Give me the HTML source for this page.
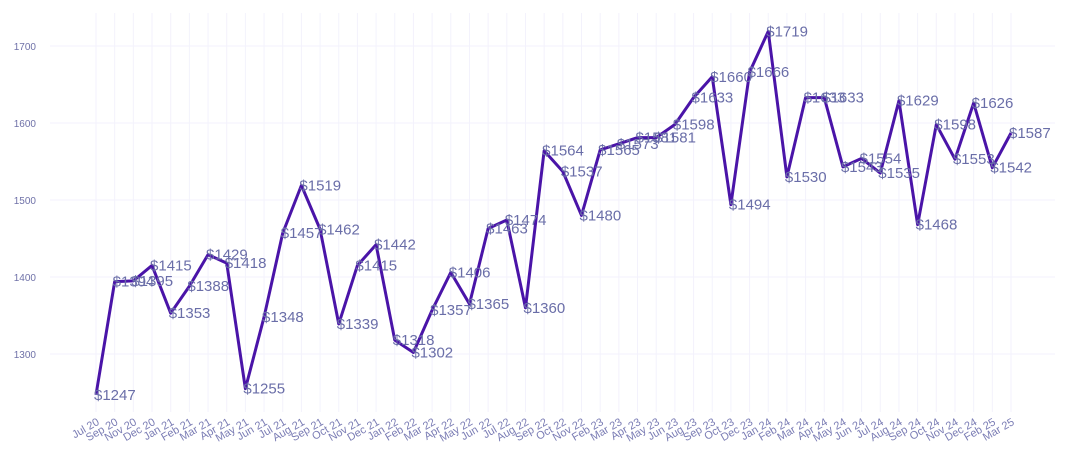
<!DOCTYPE html>
<html><head><meta charset="utf-8"><style>
html,body{margin:0;padding:0;background:#fff;}
svg{display:block;font-family:"Liberation Sans",sans-serif;}
</style></head><body>
<svg id="chart" width="1070" height="465" viewBox="0 0 1070 465">
<g id="grid"></g>
<g id="yaxis"></g>
<g id="xaxis"></g>
<g id="series"></g>
</svg>
<script>
const categories=["Jul 20","Sep 20","Nov 20","Dec 20","Jan 21","Feb 21","Mar 21","Apr 21","May 21","Jun 21","Jul 21","Aug 21","Sep 21","Oct 21","Nov 21","Dec 21","Jan 22","Feb 22","Mar 22","Apr 22","May 22","Jun 22","Jul 22","Aug 22","Sep 22","Oct 22","Nov 22","Feb 23","Mar 23","Apr 23","May 23","Jun 23","Aug 23","Sep 23","Oct 23","Dec 23","Jan 24","Feb 24","Mar 24","Apr 24","May 24","Jun 24","Jul 24","Aug 24","Sep 24","Oct 24","Nov 24","Dec 24","Feb 25","Mar 25"];
const values=[1247,1394,1395,1415,1353,1388,1429,1418,1255,1348,1457,1519,1462,1339,1415,1442,1318,1302,1357,1406,1365,1463,1474,1360,1564,1537,1480,1565,1573,1581,1581,1598,1633,1660,1494,1666,1719,1530,1633,1633,1543,1554,1535,1629,1468,1598,1553,1626,1542,1587];
const yTicks=[1300,1400,1500,1600,1700];
const NS="http://www.w3.org/2000/svg";
const x0=96,x1=1011;
function xs(i){return x0+(x1-x0)*i/(categories.length-1);}
function ys(v){return 354-(v-1300)*0.77;}
function mk(tag,attrs,parent){const e=document.createElementNS(NS,tag);for(const k in attrs)e.setAttribute(k,attrs[k]);parent.appendChild(e);return e;}
const grid=document.getElementById('grid'),ya=document.getElementById('yaxis'),xa=document.getElementById('xaxis'),se=document.getElementById('series');
categories.forEach((c,i)=>{
  const l=mk('line',{x1:xs(i),x2:xs(i),y1:13,y2:412,stroke:'#f3f2fc','stroke-width':1},grid);
  
  
  const x=xs(i);
  const t=mk('text',{x:x+4,y:424,'text-anchor':'end','font-size':11,fill:'#7a7cb4',transform:`rotate(-30 ${x+4} 424)`},xa);
  t.textContent=c;
  
  
});
yTicks.forEach(v=>{
  const l=mk('line',{x1:50,x2:1055,y1:ys(v),y2:ys(v),stroke:'#f3f2fc','stroke-width':1},grid);
  
  
  const t=mk('text',{x:36,y:ys(v)+4,'text-anchor':'end','font-size':10,fill:'#6f71a8'},ya);
  t.textContent=v;
  
  
});
const p=mk('polyline',{points:values.map((v,i)=>xs(i)+','+ys(v)).join(' '),fill:'none',stroke:'#4a14a8','stroke-width':3,'stroke-linejoin':'round'},se);


values.forEach((v,i)=>{
  const t=mk('text',{x:xs(i)-2,y:ys(v)+5,'font-size':15,fill:'#6a6ea8'},se);
  t.textContent='$'+v;
  
  
});
</script>
</body></html>
